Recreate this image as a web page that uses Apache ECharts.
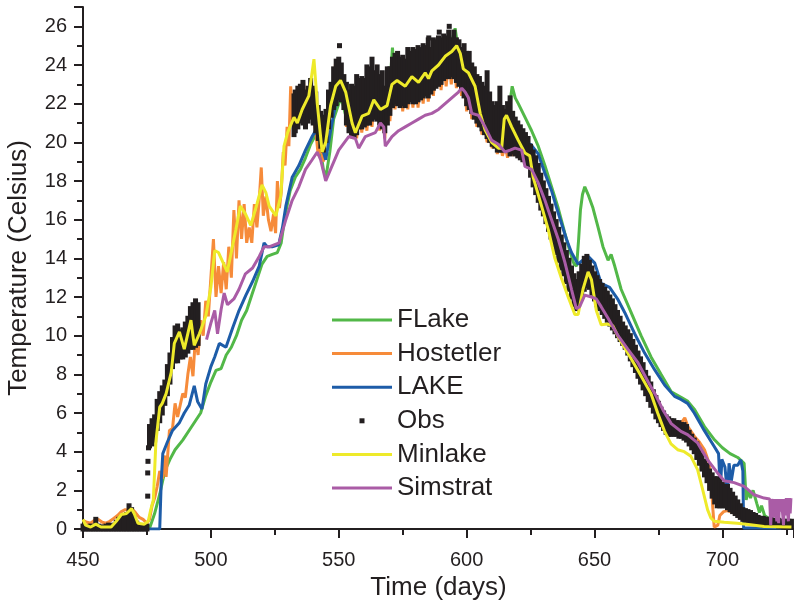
<!DOCTYPE html>
<html>
<head>
<meta charset="utf-8">
<script src="https://cdn.jsdelivr.net/npm/echarts@6/dist/echarts.min.js"></script>
<style>html,body{margin:0;padding:0;background:#fff}#c{width:794px;height:602px}</style>
</head>
<body>
<div id="c"></div>
<script>
// ---- data (day, temperature) ----
const xTicks = [450, 500, 550, 600, 650, 700];
const yTicks = [0, 2, 4, 6, 8, 10, 12, 14, 16, 18, 20, 22, 24, 26];
const seriesNames = ['FLake', 'Hostetler', 'LAKE', 'Obs', 'Minlake', 'Simstrat'];

const flake = [[450,0.02],[476,0.02],[478,0.8],[480,1.8],[482,3.0],[484,3.6],[486,4.1],[489,4.6],[492,5.2],[494,5.6],[496,6.0],[498,6.9],[500,7.6],[502,8.2],[504,8.3],[506,9.0],[508,9.4],[510,10.0],[512,10.8],[514,11.3],[516,12.1],[518,12.9],[520,13.7],[522,14.1],[524,14.2],[526,14.3],[527.5,14.8],[529,16.2],[531,17.5],[533,18.2],[535,18.6],[537,19.2],[539,19.9],[541,20.4],[542.5,19.9],[544,18.6],[545,18.2],[546.5,19.5],[548,21.2],[550,22.0],[551,22.3],[552.5,21.5],[554,21.0],[556,20.6],[558,20.8],[560,21.2],[562,21.5],[564,21.9],[566,22.0],[568,22.4],[570,23.0],[571,24.9],[572,23.0],[575,23.0],[578,23.2],[581,23.2],[584,23.6],[587,23.9],[590,24.3],[592,24.7],[594,25.1],[595.5,25.9],[597,24.5],[599,23.8],[601,23.0],[603,22.4],[605,21.6],[607,21.0],[609,20.6],[611,20.3],[613,20.1],[615,20.2],[616.5,20.6],[617.3,22.4],[617.8,22.9],[619,22.3],[620.2,22.0],[622.8,21.3],[625.4,20.6],[628,19.8],[630.6,18.8],[633.2,17.7],[635.8,16.6],[638.4,15.3],[640.3,14.4],[642,13.7],[643,13.6],[643.8,15.0],[644.5,16.5],[645.3,17.3],[646.2,17.7],[647.5,17.3],[649.4,16.6],[651.4,15.6],[653.3,14.6],[655.3,13.9],[656.5,14.2],[657.9,13.6],[660.4,12.4],[664.3,11.2],[668.2,10.0],[672.1,8.9],[676,8.0],[680,7.1],[684,6.8],[686.5,6.6],[689,6.2],[693,5.3],[697,4.6],[700,4.2],[703,3.9],[706,3.7],[708.5,3.4],[709.3,1.5],[710.2,2.0],[711,1.6],[712,2.0],[713.5,1.3],[714.5,0.85],[715.3,1.2],[716.5,0.7],[719,0.45],[722,0.25],[727,0.2]];

const hostetler = [[450,0.45],[451.5,0.35],[453,0.3],[454.5,0.45],[456,0.5],[457.5,0.35],[459,0.3],[460.5,0.4],[462,0.55],[463.5,0.7],[465,0.9],[466.5,1.0],[468,0.95],[469.5,1.0],[470.5,0.85],[472,0.6],[473.5,0.5],[475,0.3],[476,0.5],[477,1.2],[478,1.6],[479,2.2],[480,3.0],[481,2.6],[482,3.8],[482.5,2.7],[483.8,5.1],[485,5.2],[486,6.5],[487,5.8],[488,6.4],[489,7.0],[490,6.8],[491,8.0],[492,8.9],[493,7.9],[494,10.0],[495,9.0],[496,10.8],[497,10.0],[498,11.8],[499,11.0],[500,13.0],[501,15.0],[502,12.0],[503,13.6],[504,12.2],[505,13.8],[506,12.4],[507,14.6],[508,13.0],[509,16.5],[510,14.0],[511,17.0],[512,15.0],[513,16.8],[514,14.8],[515,15.6],[516,14.8],[517,16.8],[518,15.6],[519,17.2],[519.7,18.7],[520.5,16.2],[521.5,17.2],[522.5,16.0],[523.5,15.4],[524.5,16.3],[525.3,15.3],[526,18.0],[526.8,16.6],[527.5,17.4],[528.3,19.5],[529,18.8],[529.8,20.8],[530.5,19.8],[531.2,22.9],[532,21.0],[533,22.0],[533.8,20.8],[534.6,22.8],[535.4,21.3],[536.2,23.2],[537,21.6],[538,22.8],[539,22.0],[540,21.2],[541,20.6],[542,19.3],[543,19.9],[544,19.0],[545,20.5],[546,21.5],[547,22.2],[548,22.8],[548.8,24.2],[549.5,22.5],[550.5,23.2],[551.5,22.5],[552.5,22.0],[553,20.8],[554,22.0],[555,20.2],[556,21.6],[557,20.2],[558,21.8],[559,20.5],[560,21.9],[561,20.6],[562,22.3],[563,20.8],[564,22.5],[565,24.0],[566,20.6],[567,22.2],[568,20.2],[569,22.4],[570,21.1],[571,23.0],[572,21.7],[573,23.2],[574,24.4],[575,21.6],[576,23.0],[577,21.7],[578,23.3],[579,21.8],[580,23.4],[581,21.8],[582,23.5],[583,22.0],[584,23.6],[585,22.1],[586,23.8],[587,22.4],[588,24.0],[589,25.1],[590,22.7],[591,24.2],[592,22.9],[593,24.4],[594,23.0],[595,24.4],[596,22.8],[597,24.2],[598,22.4],[599,23.8],[600,21.6],[601,23.2],[602,21.2],[603,22.4],[604,20.8],[605,21.6],[606,20.4],[607,21.0],[608,20.0],[609,20.4],[610,19.7],[611,20.3],[612,19.4],[613,20.1],[614,19.3],[615,19.9],[616,19.2],[617,20.2],[618,19.3],[619,20.0],[620,19.6],[622,19.3],[624,19.0],[626,18.4],[628,17.8],[630,17.0],[632,16.2],[634,15.4],[636,14.6],[638,13.8],[640,13.0],[642,12.2],[644,12.3],[646,13.0],[648,13.2],[650,12.5],[652,12.0],[654,11.8],[656,11.5],[658,11.0],[660,10.5],[662,10.0],[664,9.5],[666,9.0],[668,8.3],[670,7.6],[672,7.0],[674,6.4],[676,5.9],[678,5.5],[680,5.3],[682,5.3],[684,5.5],[685.3,5.75],[686.5,5.3],[689,4.8],[691,4.5],[693,4.1],[694.8,3.4],[695.6,2.5],[696.3,1.0],[696.8,0.1],[697.5,0.0],[698.2,0.2],[699,0.7],[700.5,0.9],[702,0.95],[704,0.85],[706,0.75],[708,0.65],[711,0.5],[716,0.35],[720,0.25],[727,0.2]];

const lake = [[450,0.0],[480,0.0],[480.6,2.5],[481.2,3.9],[483,4.5],[485,5.1],[487.7,5.5],[489.6,6.0],[491.5,6.4],[492.5,6.9],[493.5,7.4],[494.8,6.6],[496.5,6.2],[498,7.5],[500,8.4],[501.5,8.9],[503.3,9.6],[505.9,9.4],[508.5,10.4],[511,11.3],[513.7,12.1],[516.3,12.8],[518.9,13.6],[520.8,14.8],[522,14.6],[524,14.6],[526.5,14.7],[528,15.6],[529.3,16.7],[531.8,18.2],[534.4,18.8],[537,19.6],[539.6,20.3],[540.9,20.6],[542.9,20.0],[544.9,19.1],[546.8,20.6],[548.8,22.0],[550.7,22.6],[552.7,22.2],[555.2,21.2],[557.8,21.2],[560.4,21.6],[563,22.0],[566,22.3],[570,22.9],[575,23.2],[580,23.4],[585,23.7],[590,24.0],[595,24.3],[598,24.0],[601,23.0],[604,22.0],[607,21.2],[610,20.5],[613,20.2],[616,20.0],[619,19.9],[622,19.8],[625,19.9],[628,19.4],[630.6,18.4],[633.2,17.5],[635.2,16.6],[637.1,15.8],[639,15.0],[641,14.3],[643.6,13.7],[646.2,14.0],[647.5,14.1],[650.1,13.75],[652.6,12.7],[655.9,12.5],[659.2,11.86],[661.8,11.2],[665.7,10.1],[669.6,9.1],[673.5,8.24],[677.4,7.45],[681.3,6.86],[683.8,6.7],[686.4,6.5],[689,6.0],[692.9,5.1],[696.8,4.27],[698.5,3.9],[699.2,2.0],[699.8,3.6],[701,3.2],[702,1.8],[702.6,3.4],[703.5,2.5],[704.5,3.3],[706,3.3],[707.2,3.58],[708,3.0],[708.3,0.05],[727,0.05]];

const minlake = [[450,0.5],[451,0.2],[453,0.1],[455,0.25],[457,0.1],[461,0.1],[463,0.4],[465,0.75],[467,0.8],[469,1.05],[470,0.8],[471.5,0.3],[474,0.25],[475.5,0.4],[476.5,1.0],[477.5,1.5],[478.5,4.5],[480,6.3],[481,6.5],[482.5,7.0],[484.5,8.1],[485.7,9.6],[487.7,10.2],[489.6,9.3],[492.2,10.8],[493.5,9.5],[495.5,10.1],[498,11.0],[500,12.5],[501.5,14.4],[503,14.3],[506.4,13.3],[509.8,15.5],[511.5,16.7],[513.5,16.3],[515.6,15.7],[518,16.8],[520,17.8],[521.5,17.4],[522.8,16.7],[525.4,16.2],[527.3,17.2],[528.6,19.8],[530,20.5],[532.5,21.3],[533.8,21.0],[535.7,21.7],[538.3,22.4],[540.3,24.3],[541.6,22.0],[543.5,19.5],[544.9,20.0],[546.8,21.9],[548.8,22.9],[550.7,23.2],[552.7,22.6],[555.2,21.0],[556.5,20.5],[559.1,21.35],[561.7,21.5],[563.7,22.2],[566.3,21.7],[568.9,21.9],[570.8,23.0],[572.8,23.2],[576,22.9],[578.6,23.4],[581.2,23.1],[583.8,23.6],[585.1,23.3],[586.4,23.7],[589,24.0],[591.6,24.45],[594.2,24.7],[596.1,25.0],[597.5,24.6],[598.7,23.8],[600.7,23.6],[603.3,22.9],[605.3,21.5],[607.2,20.65],[609.8,20.0],[612.4,19.7],[613.7,19.7],[614.7,21.2],[615.6,21.4],[617.6,20.8],[620.2,20.1],[622.8,19.45],[624.7,19.3],[626,18.2],[629.3,16.7],[631.9,15.5],[634.5,14.0],[637,13.0],[639.7,12.0],[642.3,11.1],[643.6,11.1],[645.5,12.4],[647.5,13.3],[648.8,12.9],[650.7,11.3],[652.6,10.57],[655.3,10.6],[657.2,10.5],[659.2,9.96],[663,9.1],[667,8.2],[670.8,7.3],[672.1,7.0],[674.7,6.0],[677.4,5.05],[679.9,4.4],[682.5,4.1],[685.1,4.0],[687.7,3.76],[690.3,3.07],[692.3,2.03],[694.2,1.0],[695.5,0.57],[696.8,0.4],[700.7,0.35],[705.8,0.3],[711,0.22],[716.3,0.13],[727,0.1]];

const simstrat = [[498.3,9.8],[500,10.65],[501.5,11.3],[502.6,10.1],[504,11.35],[505.2,12.2],[506.5,11.6],[509,11.9],[511,12.4],[513.5,13.2],[516.3,13.5],[518.9,14.1],[520.8,14.6],[523,14.6],[526.7,14.8],[529.3,16.0],[531.8,17.0],[534.4,17.7],[537,18.6],[539.6,19.1],[541.6,19.5],[542.9,19.1],[544.9,18.0],[546.8,18.6],[550,19.6],[553.9,20.3],[556.5,20.2],[557.8,19.7],[560.4,20.3],[564.3,20.5],[566.3,21.0],[567.6,20.8],[568.2,19.8],[570.8,20.3],[573.4,20.6],[576,20.8],[578.6,21.0],[581.2,21.2],[583.8,21.4],[586.4,21.5],[589,21.7],[591.6,22.0],[594.2,22.3],[596.8,22.6],[598.1,22.8],[599.4,22.6],[600.7,22.3],[602,21.5],[604.6,21.4],[607.2,20.8],[609.8,20.1],[612.4,19.9],[615,19.5],[617,19.6],[618.9,19.7],[621.5,19.6],[622.8,18.75],[625.4,18.6],[628,17.9],[630.6,17.0],[633.2,16.0],[635.8,15.0],[638.4,13.8],[641,12.4],[642.9,11.4],[644.2,11.5],[646.2,12.1],[648.8,12.0],[650.7,11.9],[652.6,11.5],[655.3,10.9],[659.2,10.0],[663,9.3],[667,8.6],[671,7.6],[674,6.9],[677,6.1],[680,5.45],[683.8,5.05],[686.4,4.88],[690.3,4.45],[694.2,3.58],[698.1,2.9],[700.7,2.5],[704.6,2.4],[708.5,2.2],[712.4,1.77],[716.3,1.6],[718.5,1.55],[718.9,0.2],[719.3,1.55],[720,1.55],[720.2,0.6],[720.5,1.55],[721.1,1.55],[721.3,0.4],[721.6,1.55],[722,0.3],[722.4,1.55],[722.8,0.9],[723.1,1.55],[723.5,1.5],[723.9,0.2],[724.3,1.55],[724.6,0.7],[725,1.6],[725.4,1.6],[725.8,0.4],[726.2,1.6],[726.5,0.8],[726.8,1.6],[727,1.6]];

// observations: [day, lowest reading, highest reading]
const obsRanges = [
[450,0,0.15],[451,0,0.1],[452,0,0.1],[453,0,0.15],[454,0,0.1],[455,0,0.5],[456,0,0.15],[457,0,0.1],[458,0,0.1],[459,0,0.15],[460,0,0.2],[461,0,0.15],[462,0,0.2],[463,0,0.35],[464,0,0.5],[465,0,0.6],[466,0,0.7],[467,0,0.75],[468,0,1.2],[469,0,1.0],[470,0,0.55],[471,0,0.3],[472,0,0.15],[473,0,0.15],[474,0,0.1],[475,0,0.15],[475.3,1.7,1.7],[475.3,2.9,2.9],[475.4,3.5,3.5],[475.6,4.2,4.2],[476,4.3,5.3],[477,4.4,5.6],[478,4.6,5.8],[479,5.2,6.6],[480,5.6,7.0],[481,6.0,7.3],[482,6.5,7.6],[483,7.0,8.4],[484,7.6,9.0],[485,8.4,9.8],[486,8.7,10.4],[487,8.7,10.5],[488,8.9,10.2],[489,8.9,10.3],[490,9.0,10.6],[491,9.2,10.9],[492,9.4,11.4],[493,9.4,11.6],[494,9.5,11.8],[495,9.6,11.6],
[532.5,20.4,22.4],[533,20.6,22.6],[534,20.8,22.8],[535,21.1,22.9],[536,21.0,23.1],[537,20.8,22.6],[538,21.1,22.8],[539,21.3,23.2],[540,21.0,22.8],[541,20.6,22.5],[542,20.2,21.8],[543,19.8,21.5],[544,19.6,21.3],[545,20.1,21.6],[546,20.8,22.6],[547,21.4,23.0],[548,21.8,23.8],[549,22.0,24.2],[550,22.3,24.3],[550.3,25.0,25.0],[551,22.2,24.0],[552,21.8,23.4],
[553,21.0,23.0],[554,20.6,22.6],[555,20.4,22.9],[556,20.3,22.8],[557,20.5,23.4],[558,20.8,23.2],[559,20.8,23.3],[560,20.9,23.2],[561,21.0,23.9],[562,21.0,23.8],[563,21.2,24.3],[564,21.3,23.6],[565,21.2,23.9],[566,21.0,23.4],[567,20.8,23.6],[568,20.6,22.8],[569,21.0,23.8],[570,21.5,23.8],[571,21.9,24.3],[572,22.1,24.5],[573,22.0,24.6],[574,21.9,24.3],[575,22.0,24.4],[576,21.9,24.2],[577,22.1,24.8],[578,22.2,24.6],[579,22.1,24.8],[580,22.1,24.7],[581,22.2,24.9],[582,22.3,24.8],[583,22.4,25.0],[584,22.5,24.9],[585,22.4,25.3],[585.2,25.4,25.4],[586,22.6,24.8],[587,22.8,25.3],[588,22.9,25.2],[589,23.0,25.4],[589.3,25.7,25.7],[590,23.1,25.3],[591,23.3,25.5],[592,23.4,25.4],[593,23.4,25.7],[593.2,26.0,26.0],[594,23.5,25.3],[595,23.4,25.7],[596,23.2,25.3],[597,23.0,25.2],[598,22.8,24.8],[599,22.4,25.0],[600,22.0,24.6],[601,21.8,24.6],[602,21.6,24.0],[603,21.3,23.8],
[604,21.1,23.4],[605,20.9,23.3],[606,20.7,23.0],[607,20.5,22.8],[608,20.3,23.6],[609,20.1,22.5],[610,19.9,22.0],[611,19.8,21.8],[612,19.6,22.0],[613,19.6,22.8],[614,19.6,21.8],[615,19.6,21.6],[616,19.6,22.0],[617,19.4,22.3],[618,19.5,21.5],[619,19.4,21.2],[620,19.3,21.0],[621,19.2,20.8],[622,19.1,20.6],[623,19.0,20.4],
[624,18.8,20.2],[625,18.3,19.8],[626,17.8,19.5],[627,17.4,19.2],[628,17.0,18.8],[629,16.6,18.3],[630,16.3,17.9],[631,15.9,17.5],[632,15.5,17.1],[633,15.1,16.7],[634,14.7,16.3],[635,14.3,15.9],[636,13.9,15.5],[637,13.5,15.1],[638,13.2,14.7],[639,12.8,14.3],[640,12.4,13.9],[641,12.0,13.5],[642,11.6,13.1],[643,11.4,12.8],[644,11.8,13.2],[645,12.1,13.6],[646,12.4,14.0],[647,12.6,14.1],[648,12.5,13.8],[649,12.2,13.5],[650,11.9,13.2],[651,11.6,13.0],[652,11.4,12.8],[653,11.2,12.6],[654,11.0,12.4],[655,10.8,12.2],[656,10.6,12.0],[657,10.4,11.8],[658,10.2,11.5],[659,10.0,11.2],[660,9.8,10.9],[661,9.6,10.6],[662,9.4,10.4],[663,9.1,10.2],[664,8.8,10.0],[665,8.5,9.7],[666,8.2,9.4],[667,7.9,9.1],[668,7.6,8.8],[669,7.3,8.5],[670,7.0,8.1],[671,6.7,7.8],[672,6.4,7.5],[673,6.1,7.1],[674,5.8,6.8],[675,5.6,6.5],[676,5.4,6.2],[677,5.2,6.0],[678,5.0,5.8],[679,4.9,5.7],[680,4.9,5.6],[681,4.9,5.6],[682,4.9,5.5],[683,4.8,5.5],[684,4.8,5.4],[685,4.7,5.4],[686,4.6,5.3],[687,4.4,5.0],[688,4.2,4.8],[689,4.0,4.6],[690,3.7,4.4],[691,3.4,4.1],[692,3.1,3.8],[693,2.8,3.5],[694,2.5,3.3],[695,2.1,3.0],[696,1.7,2.8],[697,1.4,2.6],[698,1.2,2.6],[699,1.2,2.5],[700,1.2,2.3],[701,1.2,2.2],[702,1.1,2.2],[703,1.0,2.0],[704,0.9,1.8],[705,0.8,1.6],[706,0.7,1.4],[707,0.6,1.2],[708,0.5,1.0],[709,0.45,0.95],[710,0.4,0.9],[711,0.35,0.85],[712,0.3,0.75],[713,0.3,0.7],[714,0.25,0.6],[715,0.25,0.55],[716,0.2,0.55],[717,0.2,0.5],[718,0.2,0.5],[719,0.2,0.5],[720,0.2,0.45],[721,0.2,0.45],[722,0.15,0.45],[723,0.15,0.4],[724,0.1,0.4],[725,0.1,0.4],[726,0.1,0.4],[727,0.1,0.4]];

const colors = {FLake:'#52b848', Hostetler:'#f68b3a', LAKE:'#1d5ca8', Obs:'#231f20', Minlake:'#eeea2a', Simstrat:'#aa5ca6'};
const ink = '#231f20';
const font = 'Liberation Sans, Arial, Helvetica, sans-serif';

// legend icons: invisible 60x14 frame (move-to points) + visible mark
const lineIcon = 'path://M0,0M60,14M0,5.5L60,5.5L60,8.5L0,8.5Z';
const dotIcon = 'path://M0,0M60,14M27.5,4.5L32.5,4.5L32.5,9.5L27.5,9.5Z';

function lineSeries(name, data, z) {
  return {
    name, type: 'line', data, showSymbol: false, symbol: 'none', z,
    lineStyle: {color: colors[name], width: 3},
    itemStyle: {color: colors[name]},
    emphasis: {disabled: true}, animation: false
  };
}

const chart = echarts.init(document.getElementById('c'), null, {renderer: 'canvas'});
chart.setOption({
  animation: false,
  backgroundColor: '#ffffff',
  grid: {left: 83, right: 0, top: 7, bottom: 73, containLabel: false, outerBoundsMode: 'none'},
  xAxis: {
    type: 'value', min: 450, max: 728, interval: 50,
    name: 'Time (days)', nameLocation: 'middle', nameGap: 45,
    nameTextStyle: {fontFamily: font, fontSize: 26, color: ink},
    axisLine: {show: true, onZero: false, lineStyle: {color: ink, width: 2}},
    axisTick: {show: true, length: 9, lineStyle: {color: ink, width: 2}},
    minorTick: {show: true, splitNumber: 2, length: 6, lineStyle: {color: ink, width: 2}},
    axisLabel: {fontFamily: font, fontSize: 20, color: ink, margin: 21, showMaxLabel: false,
      formatter: v => xTicks.includes(v) ? String(v) : ''},
    splitLine: {show: false}
  },
  yAxis: {
    type: 'value', min: 0, max: 27, interval: 2,
    name: 'Temperature (Celsius)', nameLocation: 'middle', nameGap: 51,
    nameTextStyle: {fontFamily: font, fontSize: 26, color: ink},
    axisLine: {show: true, onZero: false, lineStyle: {color: ink, width: 2}},
    axisTick: {show: true, length: 9, lineStyle: {color: ink, width: 2}},
    minorTick: {show: true, splitNumber: 2, length: 6, lineStyle: {color: ink, width: 2}},
    axisLabel: {fontFamily: font, fontSize: 20, color: ink, margin: 16, showMaxLabel: false,
      formatter: v => yTicks.includes(v) ? String(v) : ''},
    splitLine: {show: false}
  },
  legend: {
    orient: 'vertical', left: 332, top: 307, padding: 0, itemWidth: 60, itemHeight: 14, itemGap: 7.6,
    selectedMode: false,
    textStyle: {fontFamily: font, fontSize: 26, color: ink, lineHeight: 24},
    data: seriesNames.map(n => ({name: n, icon: n === 'Obs' ? dotIcon : lineIcon}))
  },
  series: [
    lineSeries('FLake', flake, 1),
    lineSeries('Hostetler', hostetler, 1),
    lineSeries('LAKE', lake, 1),
    {
      name: 'Obs', type: 'custom', data: obsRanges, animation: false, z: 2,
      itemStyle: {color: colors.Obs},
      encode: {x: 0, y: [1, 2]},
      renderItem: function (params, api) {
        const d = api.value(0), lo = api.value(1), hi = api.value(2);
        const pLo = api.coord([d, lo]);
        const pHi = api.coord([d, hi]);
        const w = 5;
        return {
          type: 'rect',
          shape: {x: pLo[0] - w / 2, y: pHi[1] - 2.5, width: w, height: (pLo[1] - pHi[1]) + 5},
          style: {fill: colors.Obs}
        };
      }
    },
    lineSeries('Minlake', minlake, 3),
    lineSeries('Simstrat', simstrat, 3)
  ]
});
</script>
</body>
</html>
